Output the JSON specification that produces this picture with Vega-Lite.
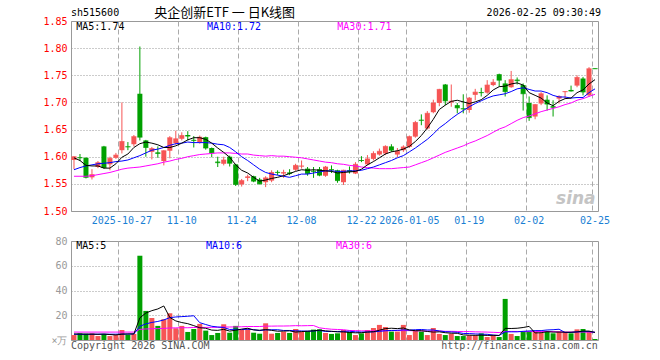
{
"$schema": "https://vega.github.io/schema/vega-lite/v6.json",
"background": "white",
"autosize": {"type": "pad"},
"padding": {"left": 0, "top": 6, "right": 0, "bottom": 0},
"bounds": "flush",
"spacing": 30,
"config": {
  "view": {"stroke": "#999", "strokeWidth": 1},
  "text": {"font": "DejaVu Sans Mono", "fontSize": 10},
  "axis": {"labelFont": "DejaVu Sans Mono", "labelFontSize": 10, "labelOverlap": false}
},
"datasets": {
"k": [
{"d":"2025-10-15","o":1.594,"h":1.601,"l":1.577,"c":1.600,"v":4.0,"m5":1.598,"m10":1.576,"m30":1.564,"vm5":4.9,"vm10":4.6,"vm30":6.4},
{"d":"2025-10-16","o":1.599,"h":1.605,"l":1.592,"c":1.598,"v":5.4,"m5":1.593,"m10":1.580,"m30":1.564,"vm5":4.8,"vm10":4.6,"vm30":6.4},
{"d":"2025-10-17","o":1.598,"h":1.599,"l":1.560,"c":1.562,"v":5.1,"m5":1.584,"m10":1.583,"m30":1.564,"vm5":4.7,"vm10":4.6,"vm30":6.4},
{"d":"2025-10-20","o":1.562,"h":1.577,"l":1.558,"c":1.567,"v":5.4,"m5":1.583,"m10":1.585,"m30":1.565,"vm5":4.7,"vm10":4.7,"vm30":6.4},
{"d":"2025-10-21","o":1.581,"h":1.592,"l":1.579,"c":1.589,"v":3.2,"m5":1.583,"m10":1.587,"m30":1.567,"vm5":4.6,"vm10":4.7,"vm30":6.4},
{"d":"2025-10-22","o":1.619,"h":1.620,"l":1.578,"c":1.580,"v":4.9,"m5":1.579,"m10":1.588,"m30":1.569,"vm5":4.8,"vm10":4.7,"vm30":6.4},
{"d":"2025-10-23","o":1.586,"h":1.600,"l":1.575,"c":1.597,"v":3.2,"m5":1.579,"m10":1.589,"m30":1.571,"vm5":4.4,"vm10":4.7,"vm30":6.4},
{"d":"2025-10-24","o":1.598,"h":1.607,"l":1.596,"c":1.603,"v":4.0,"m5":1.587,"m10":1.591,"m30":1.574,"vm5":4.1,"vm10":4.7,"vm30":6.4},
{"d":"2025-10-27","o":1.612,"h":1.700,"l":1.606,"c":1.628,"v":8.1,"m5":1.599,"m10":1.592,"m30":1.577,"vm5":4.7,"vm10":4.8,"vm30":6.4},
{"d":"2025-10-28","o":1.619,"h":1.627,"l":1.612,"c":1.618,"v":4.3,"m5":1.605,"m10":1.594,"m30":1.579,"vm5":4.9,"vm10":4.8,"vm30":6.4},
{"d":"2025-10-29","o":1.623,"h":1.640,"l":1.619,"c":1.637,"v":4.9,"m5":1.617,"m10":1.598,"m30":1.580,"vm5":4.9,"vm10":4.9,"vm30":6.4},
{"d":"2025-10-30","o":1.716,"h":1.803,"l":1.630,"c":1.636,"v":68.1,"m5":1.624,"m10":1.602,"m30":1.581,"vm5":17.9,"vm10":11.1,"vm30":8.6},
{"d":"2025-10-31","o":1.630,"h":1.631,"l":1.600,"c":1.617,"v":23.5,"m5":1.627,"m10":1.607,"m30":1.583,"vm5":21.8,"vm10":13.0,"vm30":8.9},
{"d":"2025-11-03","o":1.609,"h":1.618,"l":1.595,"c":1.615,"v":17.8,"m5":1.625,"m10":1.612,"m30":1.585,"vm5":23.7,"vm10":14.2,"vm30":9.1},
{"d":"2025-11-04","o":1.608,"h":1.619,"l":1.598,"c":1.606,"v":11.4,"m5":1.622,"m10":1.614,"m30":1.587,"vm5":25.1,"vm10":15.0,"vm30":9.2},
{"d":"2025-11-05","o":1.592,"h":1.612,"l":1.584,"c":1.611,"v":16.8,"m5":1.617,"m10":1.617,"m30":1.590,"vm5":27.5,"vm10":16.2,"vm30":9.4},
{"d":"2025-11-06","o":1.611,"h":1.638,"l":1.597,"c":1.635,"v":21.6,"m5":1.617,"m10":1.621,"m30":1.592,"vm5":18.2,"vm10":18.1,"vm30":9.7},
{"d":"2025-11-07","o":1.625,"h":1.648,"l":1.622,"c":1.633,"v":9.5,"m5":1.620,"m10":1.624,"m30":1.595,"vm5":15.4,"vm10":18.6,"vm30":9.8},
{"d":"2025-11-10","o":1.633,"h":1.645,"l":1.630,"c":1.639,"v":11.4,"m5":1.625,"m10":1.625,"m30":1.597,"vm5":14.1,"vm10":18.9,"vm30":9.9},
{"d":"2025-11-11","o":1.640,"h":1.647,"l":1.630,"c":1.638,"v":6.5,"m5":1.631,"m10":1.627,"m30":1.600,"vm5":13.2,"vm10":19.2,"vm30":9.9},
{"d":"2025-11-12","o":1.631,"h":1.638,"l":1.617,"c":1.630,"v":8.9,"m5":1.635,"m10":1.626,"m30":1.602,"vm5":11.6,"vm10":19.6,"vm30":10.1},
{"d":"2025-11-13","o":1.627,"h":1.639,"l":1.624,"c":1.636,"v":13.0,"m5":1.635,"m10":1.626,"m30":1.604,"vm5":9.9,"vm10":14.0,"vm30":10.2},
{"d":"2025-11-14","o":1.636,"h":1.637,"l":1.613,"c":1.616,"v":7.6,"m5":1.632,"m10":1.626,"m30":1.605,"vm5":9.5,"vm10":12.5,"vm30":10.2},
{"d":"2025-11-17","o":1.616,"h":1.617,"l":1.599,"c":1.607,"v":4.0,"m5":1.625,"m10":1.625,"m30":1.606,"vm5":8.0,"vm10":11.1,"vm30":10.2},
{"d":"2025-11-18","o":1.591,"h":1.600,"l":1.581,"c":1.589,"v":5.7,"m5":1.616,"m10":1.623,"m30":1.607,"vm5":7.8,"vm10":10.5,"vm30":10.3},
{"d":"2025-11-19","o":1.587,"h":1.600,"l":1.584,"c":1.594,"v":12.7,"m5":1.608,"m10":1.622,"m30":1.607,"vm5":8.6,"vm10":10.1,"vm30":10.5},
{"d":"2025-11-20","o":1.600,"h":1.602,"l":1.582,"c":1.588,"v":5.9,"m5":1.599,"m10":1.617,"m30":1.607,"vm5":7.2,"vm10":8.5,"vm30":10.5},
{"d":"2025-11-21","o":1.586,"h":1.587,"l":1.546,"c":1.549,"v":11.4,"m5":1.585,"m10":1.609,"m30":1.606,"vm5":7.9,"vm10":8.7,"vm30":10.6},
{"d":"2025-11-24","o":1.549,"h":1.559,"l":1.545,"c":1.556,"v":8.1,"m5":1.575,"m10":1.600,"m30":1.605,"vm5":8.8,"vm10":8.4,"vm30":10.7},
{"d":"2025-11-25","o":1.561,"h":1.567,"l":1.555,"c":1.563,"v":9.2,"m5":1.570,"m10":1.593,"m30":1.605,"vm5":9.5,"vm10":8.7,"vm30":10.9},
{"d":"2025-11-26","o":1.564,"h":1.565,"l":1.553,"c":1.555,"v":5.9,"m5":1.562,"m10":1.585,"m30":1.603,"vm5":8.1,"vm10":8.4,"vm30":10.9},
{"d":"2025-11-27","o":1.558,"h":1.561,"l":1.549,"c":1.550,"v":5.1,"m5":1.555,"m10":1.577,"m30":1.602,"vm5":7.9,"vm10":7.6,"vm30":10.9},
{"d":"2025-11-28","o":1.553,"h":1.564,"l":1.544,"c":1.561,"v":13.5,"m5":1.557,"m10":1.571,"m30":1.601,"vm5":8.4,"vm10":8.2,"vm30":11.2},
{"d":"2025-12-01","o":1.556,"h":1.575,"l":1.553,"c":1.571,"v":5.1,"m5":1.560,"m10":1.568,"m30":1.602,"vm5":7.8,"vm10":8.3,"vm30":11.2},
{"d":"2025-12-02","o":1.572,"h":1.575,"l":1.566,"c":1.571,"v":5.7,"m5":1.562,"m10":1.566,"m30":1.601,"vm5":7.1,"vm10":8.3,"vm30":11.3},
{"d":"2025-12-03","o":1.569,"h":1.576,"l":1.561,"c":1.571,"v":6.8,"m5":1.565,"m10":1.564,"m30":1.601,"vm5":7.2,"vm10":7.7,"vm30":11.3},
{"d":"2025-12-04","o":1.571,"h":1.577,"l":1.566,"c":1.569,"v":5.7,"m5":1.569,"m10":1.562,"m30":1.600,"vm5":7.4,"vm10":7.7,"vm30":11.4},
{"d":"2025-12-05","o":1.576,"h":1.587,"l":1.574,"c":1.584,"v":8.9,"m5":1.573,"m10":1.565,"m30":1.599,"vm5":6.4,"vm10":7.4,"vm30":11.6},
{"d":"2025-12-08","o":1.582,"h":1.593,"l":1.578,"c":1.583,"v":6.8,"m5":1.576,"m10":1.568,"m30":1.598,"vm5":6.8,"vm10":7.3,"vm30":11.5},
{"d":"2025-12-09","o":1.578,"h":1.581,"l":1.565,"c":1.569,"v":7.3,"m5":1.575,"m10":1.568,"m30":1.596,"vm5":7.1,"vm10":7.1,"vm30":11.6},
{"d":"2025-12-10","o":1.574,"h":1.581,"l":1.561,"c":1.573,"v":8.4,"m5":1.576,"m10":1.570,"m30":1.594,"vm5":7.4,"vm10":7.3,"vm30":11.7},
{"d":"2025-12-11","o":1.577,"h":1.581,"l":1.564,"c":1.566,"v":8.6,"m5":1.575,"m10":1.572,"m30":1.592,"vm5":8.0,"vm10":7.7,"vm30":9.8},
{"d":"2025-12-12","o":1.565,"h":1.583,"l":1.563,"c":1.581,"v":5.7,"m5":1.574,"m10":1.574,"m30":1.590,"vm5":7.4,"vm10":6.9,"vm30":9.2},
{"d":"2025-12-15","o":1.577,"h":1.584,"l":1.570,"c":1.576,"v":4.9,"m5":1.573,"m10":1.574,"m30":1.589,"vm5":7.0,"vm10":6.9,"vm30":8.7},
{"d":"2025-12-16","o":1.575,"h":1.576,"l":1.552,"c":1.556,"v":5.4,"m5":1.570,"m10":1.573,"m30":1.587,"vm5":6.6,"vm10":6.9,"vm30":8.5},
{"d":"2025-12-17","o":1.553,"h":1.576,"l":1.548,"c":1.575,"v":8.1,"m5":1.571,"m10":1.573,"m30":1.586,"vm5":6.5,"vm10":7.0,"vm30":8.3},
{"d":"2025-12-18","o":1.575,"h":1.582,"l":1.569,"c":1.573,"v":6.5,"m5":1.572,"m10":1.574,"m30":1.584,"vm5":6.1,"vm10":7.1,"vm30":7.7},
{"d":"2025-12-19","o":1.569,"h":1.590,"l":1.568,"c":1.586,"v":4.0,"m5":1.573,"m10":1.574,"m30":1.583,"vm5":5.8,"vm10":6.6,"vm30":7.6},
{"d":"2025-12-22","o":1.594,"h":1.601,"l":1.590,"c":1.593,"v":5.4,"m5":1.577,"m10":1.575,"m30":1.581,"vm5":5.9,"vm10":6.4,"vm30":7.4},
{"d":"2025-12-23","o":1.586,"h":1.603,"l":1.584,"c":1.596,"v":8.1,"m5":1.585,"m10":1.578,"m30":1.580,"vm5":6.4,"vm10":6.5,"vm30":7.4},
{"d":"2025-12-24","o":1.596,"h":1.610,"l":1.593,"c":1.606,"v":9.7,"m5":1.591,"m10":1.581,"m30":1.579,"vm5":6.7,"vm10":6.6,"vm30":7.4},
{"d":"2025-12-25","o":1.604,"h":1.615,"l":1.602,"c":1.610,"v":12.2,"m5":1.598,"m10":1.585,"m30":1.578,"vm5":7.9,"vm10":7.0,"vm30":7.4},
{"d":"2025-12-26","o":1.606,"h":1.621,"l":1.603,"c":1.619,"v":10.5,"m5":1.605,"m10":1.589,"m30":1.578,"vm5":9.2,"vm10":7.5,"vm30":7.5},
{"d":"2025-12-29","o":1.619,"h":1.623,"l":1.609,"c":1.612,"v":6.8,"m5":1.609,"m10":1.593,"m30":1.578,"vm5":9.5,"vm10":7.7,"vm30":7.6},
{"d":"2025-12-30","o":1.604,"h":1.616,"l":1.599,"c":1.610,"v":6.8,"m5":1.611,"m10":1.598,"m30":1.579,"vm5":9.2,"vm10":7.8,"vm30":7.6},
{"d":"2025-12-31","o":1.612,"h":1.621,"l":1.609,"c":1.618,"v":12.2,"m5":1.614,"m10":1.602,"m30":1.580,"vm5":9.7,"vm10":8.2,"vm30":7.6},
{"d":"2026-01-05","o":1.618,"h":1.639,"l":1.616,"c":1.637,"v":4.0,"m5":1.619,"m10":1.609,"m30":1.581,"vm5":8.1,"vm10":8.0,"vm30":7.6},
{"d":"2026-01-06","o":1.637,"h":1.666,"l":1.635,"c":1.663,"v":7.6,"m5":1.628,"m10":1.616,"m30":1.585,"vm5":7.5,"vm10":8.3,"vm30":7.4},
{"d":"2026-01-07","o":1.668,"h":1.678,"l":1.658,"c":1.667,"v":6.8,"m5":1.639,"m10":1.624,"m30":1.589,"vm5":7.5,"vm10":8.5,"vm30":7.4},
{"d":"2026-01-08","o":1.652,"h":1.684,"l":1.650,"c":1.680,"v":4.0,"m5":1.653,"m10":1.632,"m30":1.593,"vm5":6.9,"vm10":8.1,"vm30":7.2},
{"d":"2026-01-09","o":1.682,"h":1.705,"l":1.680,"c":1.699,"v":9.7,"m5":1.669,"m10":1.642,"m30":1.598,"vm5":6.4,"vm10":8.1,"vm30":7.3},
{"d":"2026-01-12","o":1.699,"h":1.725,"l":1.693,"c":1.724,"v":4.9,"m5":1.687,"m10":1.653,"m30":1.603,"vm5":6.6,"vm10":7.3,"vm30":7.3},
{"d":"2026-01-13","o":1.733,"h":1.734,"l":1.695,"c":1.703,"v":4.0,"m5":1.695,"m10":1.661,"m30":1.608,"vm5":5.9,"vm10":6.7,"vm30":7.0},
{"d":"2026-01-14","o":1.700,"h":1.733,"l":1.692,"c":1.702,"v":5.1,"m5":1.702,"m10":1.670,"m30":1.612,"vm5":5.5,"vm10":6.5,"vm30":7.0},
{"d":"2026-01-15","o":1.695,"h":1.699,"l":1.680,"c":1.690,"v":3.2,"m5":1.704,"m10":1.678,"m30":1.616,"vm5":5.4,"vm10":6.2,"vm30":6.9},
{"d":"2026-01-16","o":1.689,"h":1.715,"l":1.680,"c":1.688,"v":3.2,"m5":1.701,"m10":1.685,"m30":1.620,"vm5":4.1,"vm10":5.3,"vm30":6.8},
{"d":"2026-01-19","o":1.686,"h":1.710,"l":1.681,"c":1.708,"v":3.8,"m5":1.698,"m10":1.692,"m30":1.625,"vm5":3.9,"vm10":5.2,"vm30":6.8},
{"d":"2026-01-20","o":1.714,"h":1.725,"l":1.704,"c":1.719,"v":3.8,"m5":1.701,"m10":1.698,"m30":1.629,"vm5":3.8,"vm10":4.9,"vm30":6.6},
{"d":"2026-01-21","o":1.719,"h":1.727,"l":1.711,"c":1.718,"v":5.4,"m5":1.705,"m10":1.703,"m30":1.634,"vm5":3.9,"vm10":4.7,"vm30":6.5},
{"d":"2026-01-22","o":1.718,"h":1.741,"l":1.716,"c":1.732,"v":2.4,"m5":1.713,"m10":1.708,"m30":1.639,"vm5":3.7,"vm10":4.6,"vm30":6.4},
{"d":"2026-01-23","o":1.732,"h":1.743,"l":1.730,"c":1.737,"v":3.8,"m5":1.723,"m10":1.712,"m30":1.645,"vm5":3.8,"vm10":4.0,"vm30":6.2},
{"d":"2026-01-26","o":1.752,"h":1.753,"l":1.729,"c":1.741,"v":2.4,"m5":1.729,"m10":1.714,"m30":1.651,"vm5":3.6,"vm10":3.7,"vm30":6.0},
{"d":"2026-01-27","o":1.735,"h":1.741,"l":1.711,"c":1.720,"v":33.2,"m5":1.730,"m10":1.716,"m30":1.655,"vm5":9.4,"vm10":6.6,"vm30":6.9},
{"d":"2026-01-28","o":1.728,"h":1.758,"l":1.727,"c":1.742,"v":4.9,"m5":1.734,"m10":1.720,"m30":1.661,"vm5":9.3,"vm10":6.6,"vm30":6.9},
{"d":"2026-01-29","o":1.742,"h":1.746,"l":1.733,"c":1.740,"v":3.2,"m5":1.736,"m10":1.725,"m30":1.667,"vm5":9.5,"vm10":6.6,"vm30":6.9},
{"d":"2026-01-30","o":1.732,"h":1.735,"l":1.685,"c":1.716,"v":6.8,"m5":1.732,"m10":1.727,"m30":1.672,"vm5":10.1,"vm10":7.0,"vm30":6.8},
{"d":"2026-02-02","o":1.699,"h":1.711,"l":1.666,"c":1.672,"v":6.8,"m5":1.718,"m10":1.724,"m30":1.675,"vm5":11.0,"vm10":7.3,"vm30":6.8},
{"d":"2026-02-03","o":1.674,"h":1.697,"l":1.669,"c":1.696,"v":6.8,"m5":1.713,"m10":1.721,"m30":1.679,"vm5":5.7,"vm10":7.6,"vm30":6.9},
{"d":"2026-02-04","o":1.698,"h":1.719,"l":1.695,"c":1.716,"v":5.7,"m5":1.708,"m10":1.721,"m30":1.683,"vm5":5.9,"vm10":7.6,"vm30":6.9},
{"d":"2026-02-05","o":1.705,"h":1.713,"l":1.685,"c":1.697,"v":7.3,"m5":1.699,"m10":1.718,"m30":1.686,"vm5":6.7,"vm10":8.1,"vm30":6.9},
{"d":"2026-02-06","o":1.693,"h":1.704,"l":1.674,"c":1.691,"v":5.4,"m5":1.694,"m10":1.713,"m30":1.689,"vm5":6.4,"vm10":8.3,"vm30":6.8},
{"d":"2026-02-09","o":1.707,"h":1.713,"l":1.698,"c":1.711,"v":6.8,"m5":1.702,"m10":1.710,"m30":1.692,"vm5":6.4,"vm10":8.7,"vm30":6.6},
{"d":"2026-02-10","o":1.719,"h":1.721,"l":1.707,"c":1.720,"v":6.5,"m5":1.707,"m10":1.710,"m30":1.696,"vm5":6.3,"vm10":6.0,"vm30":6.4},
{"d":"2026-02-11","o":1.723,"h":1.731,"l":1.720,"c":1.721,"v":5.4,"m5":1.708,"m10":1.708,"m30":1.699,"vm5":6.3,"vm10":6.1,"vm30":6.4},
{"d":"2026-02-12","o":1.731,"h":1.750,"l":1.728,"c":1.746,"v":8.6,"m5":1.718,"m10":1.709,"m30":1.704,"vm5":6.5,"vm10":6.6,"vm30":6.5},
{"d":"2026-02-13","o":1.744,"h":1.747,"l":1.713,"c":1.719,"v":8.9,"m5":1.723,"m10":1.709,"m30":1.707,"vm5":7.2,"vm10":6.8,"vm30":6.4},
{"d":"2026-02-24","o":1.713,"h":1.765,"l":1.711,"c":1.762,"v":6.8,"m5":1.734,"m10":1.718,"m30":1.711,"vm5":7.2,"vm10":6.8,"vm30":6.4},
{"d":"2026-02-25","o":1.763,"h":1.763,"l":1.762,"c":1.762,"v":0.8,"m5":1.742,"m10":1.725,"m30":1.715,"vm5":6.1,"vm10":6.2,"vm30":6.2}
]
},
"vconcat": [
{
  "width": 527,
  "height": 190,
  "data": {"name": "k"},
  "layer": [
    {
      "mark": {"type": "rule", "strokeWidth": 1},
      "encoding": {
        "x": {"field": "d", "type": "ordinal",
              "scale": {"type": "band", "paddingInner": 0, "paddingOuter": 0},
              "axis": {"values": ["2025-10-27","2025-11-10","2025-11-24","2025-12-08","2025-12-22","2026-01-05","2026-01-19","2026-02-02","2026-02-25"],
                       "bandPosition": 0,
                       "labelExpr": "datum.value == '2025-10-27' || datum.value == '2026-01-05' ? datum.value : slice(datum.value, 5)",
                       "labelAngle": 0, "labelColor": "#1a7fd4", "labelPadding": 4, "labelOverlap": false,
                       "ticks": false, "domain": false, "title": null,
                       "grid": true, "gridColor": "#aaaaaa", "gridDash": [5, 3]}},
        "y": {"field": "l", "type": "quantitative",
              "scale": {"domain": [1.5, 1.85], "zero": false, "nice": false},
              "axis": {"values": [1.5, 1.55, 1.6, 1.65, 1.7, 1.75, 1.8, 1.85], "tickCount": 20, "format": ".2f",
                       "labelColor": "#ff0000", "labelPadding": 4, "labelOverlap": false, "labelBound": false,
                       "ticks": false, "domain": false, "title": null,
                       "grid": true, "gridColor": "#999999", "gridDash": [1, 2],
                       "minExtent": 70, "maxExtent": 70}},
        "y2": {"field": "h"},
        "color": {"condition": {"test": "datum.c >= datum.o", "value": "#f65555"}, "value": "#00a000"}
      }
    },
    {
      "mark": {"type": "bar", "width": 5},
      "encoding": {
        "x": {"field": "d", "type": "ordinal"},
        "y": {"field": "o", "type": "quantitative"},
        "y2": {"field": "c"},
        "color": {"condition": {"test": "datum.c >= datum.o", "value": "#f65555"}, "value": "#00a000"}
      }
    },
    {
      "mark": {"type": "tick", "thickness": 1, "size": 5},
      "encoding": {
        "x": {"field": "d", "type": "ordinal"},
        "y": {"field": "c", "type": "quantitative"},
        "color": {"condition": {"test": "datum.c >= datum.o", "value": "#f65555"}, "value": "#00a000"}
      }
    },
    {
      "mark": {"type": "line", "strokeWidth": 1, "color": "#ff00ff"},
      "encoding": {"x": {"field": "d", "type": "ordinal"}, "y": {"field": "m30", "type": "quantitative"}}
    },
    {
      "mark": {"type": "line", "strokeWidth": 1, "color": "#0000ff"},
      "encoding": {"x": {"field": "d", "type": "ordinal"}, "y": {"field": "m10", "type": "quantitative"}}
    },
    {
      "mark": {"type": "line", "strokeWidth": 1, "color": "#000000"},
      "encoding": {"x": {"field": "d", "type": "ordinal"}, "y": {"field": "m5", "type": "quantitative"}}
    },
    {
      "data": {"values": [{"t": "sh515600"}]},
      "mark": {"type": "text", "align": "left", "baseline": "middle", "color": "#000"},
      "encoding": {"x": {"datum": "2025-10-15", "type": "ordinal", "bandPosition": 0}, "y": {"datum": 1.8647, "type": "quantitative"}, "text": {"field": "t"}}
    },
    {
      "data": {"values": [{"t": "央企创新ETF 一 日K线图"}]},
      "mark": {"type": "text", "align": "center", "baseline": "middle", "color": "#000", "font": "Noto Sans CJK SC", "fontSize": 13},
      "encoding": {"x": {"datum": "2025-11-19", "type": "ordinal", "bandPosition": 0.66}, "y": {"datum": 1.8647, "type": "quantitative"}, "text": {"field": "t"}}
    },
    {
      "data": {"values": [{"t": "2026-02-25 09:30:49"}]},
      "mark": {"type": "text", "align": "right", "baseline": "middle", "color": "#000", "dx": 3},
      "encoding": {"x": {"datum": "2026-02-25", "type": "ordinal", "bandPosition": 1}, "y": {"datum": 1.8647, "type": "quantitative"}, "text": {"field": "t"}}
    },
    {
      "data": {"values": [{"t": "MA5:1.74"}]},
      "mark": {"type": "text", "align": "left", "baseline": "middle", "color": "#000000"},
      "encoding": {"x": {"datum": "2025-10-15", "type": "ordinal", "bandPosition": 0.88}, "y": {"datum": 1.8393, "type": "quantitative"}, "text": {"field": "t"}}
    },
    {
      "data": {"values": [{"t": "MA10:1.72"}]},
      "mark": {"type": "text", "align": "left", "baseline": "middle", "color": "#0000ff"},
      "encoding": {"x": {"datum": "2025-11-14", "type": "ordinal", "bandPosition": 0.7}, "y": {"datum": 1.8393, "type": "quantitative"}, "text": {"field": "t"}}
    },
    {
      "data": {"values": [{"t": "MA30:1.71"}]},
      "mark": {"type": "text", "align": "left", "baseline": "middle", "color": "#ff00ff"},
      "encoding": {"x": {"datum": "2025-12-16", "type": "ordinal", "bandPosition": 0.47}, "y": {"datum": 1.8393, "type": "quantitative"}, "text": {"field": "t"}}
    },
    {
      "data": {"values": [{"t": "sina"}]},
      "mark": {"type": "text", "align": "center", "baseline": "middle", "color": "#c4c4c4", "font": "DejaVu Sans", "fontSize": 17, "fontWeight": "bold", "fontStyle": "italic"},
      "encoding": {"x": {"datum": "2026-02-12", "type": "ordinal", "bandPosition": 0.3}, "y": {"datum": 1.523, "type": "quantitative"}, "text": {"field": "t"}}
    }
  ]
},
{
  "width": 527,
  "height": 99,
  "data": {"name": "k"},
  "layer": [
    {
      "mark": {"type": "bar", "width": 5},
      "encoding": {
        "x": {"field": "d", "type": "ordinal",
              "scale": {"type": "band", "paddingInner": 0, "paddingOuter": 0},
              "axis": {"values": ["2025-10-27","2025-11-10","2025-11-24","2025-12-08","2025-12-22","2026-01-05","2026-01-19","2026-02-02","2026-02-25"],
                       "bandPosition": 0, "labels": false, "ticks": false, "domain": false, "title": null,
                       "grid": true, "gridColor": "#aaaaaa", "gridDash": [5, 3]}},
        "y": {"field": "v", "type": "quantitative",
              "scale": {"domain": [0, 80], "nice": false},
              "axis": {"values": [0, 20, 40, 60, 80], "tickCount": 20,
                       "labelExpr": "datum.value == 0 ? '×万' : datum.label",
                       "labelColor": "#999999", "labelPadding": 4, "labelOverlap": false, "labelBound": false,
                       "ticks": false, "domain": false, "title": null,
                       "grid": true, "gridColor": "#999999", "gridDash": [1, 2],
                       "minExtent": 70, "maxExtent": 70}},
        "color": {"condition": {"test": "datum.c >= datum.o", "value": "#f65555"}, "value": "#00a000"}
      }
    },
    {
      "mark": {"type": "line", "strokeWidth": 1, "color": "#ff00ff"},
      "encoding": {"x": {"field": "d", "type": "ordinal"}, "y": {"field": "vm30", "type": "quantitative"}}
    },
    {
      "mark": {"type": "line", "strokeWidth": 1, "color": "#0000ff"},
      "encoding": {"x": {"field": "d", "type": "ordinal"}, "y": {"field": "vm10", "type": "quantitative"}}
    },
    {
      "mark": {"type": "line", "strokeWidth": 1, "color": "#000000"},
      "encoding": {"x": {"field": "d", "type": "ordinal"}, "y": {"field": "vm5", "type": "quantitative"}}
    },
    {
      "data": {"values": [{"t": "MA5:5"}]},
      "mark": {"type": "text", "align": "left", "baseline": "middle", "color": "#000000"},
      "encoding": {"x": {"datum": "2025-10-15", "type": "ordinal", "bandPosition": 0.87}, "y": {"datum": 75.7, "type": "quantitative"}, "text": {"field": "t"}}
    },
    {
      "data": {"values": [{"t": "MA10:6"}]},
      "mark": {"type": "text", "align": "left", "baseline": "middle", "color": "#0000ff"},
      "encoding": {"x": {"datum": "2025-11-14", "type": "ordinal", "bandPosition": 0.54}, "y": {"datum": 75.7, "type": "quantitative"}, "text": {"field": "t"}}
    },
    {
      "data": {"values": [{"t": "MA30:6"}]},
      "mark": {"type": "text", "align": "left", "baseline": "middle", "color": "#ff00ff"},
      "encoding": {"x": {"datum": "2025-12-16", "type": "ordinal", "bandPosition": 0.25}, "y": {"datum": 75.7, "type": "quantitative"}, "text": {"field": "t"}}
    },
    {
      "data": {"values": [{"t": "Copyright 2026 SINA.COM"}]},
      "mark": {"type": "text", "align": "left", "baseline": "middle", "color": "#555555"},
      "encoding": {"x": {"datum": "2025-10-15", "type": "ordinal", "bandPosition": 0}, "y": {"datum": -4.9, "type": "quantitative"}, "text": {"field": "t"}}
    },
    {
      "data": {"values": [{"t": "http://finance.sina.com.cn"}]},
      "mark": {"type": "text", "align": "right", "baseline": "middle", "color": "#555555"},
      "encoding": {"x": {"datum": "2026-02-25", "type": "ordinal", "bandPosition": 0.95}, "y": {"datum": -4.9, "type": "quantitative"}, "text": {"field": "t"}}
    }
  ]
}
]
}
